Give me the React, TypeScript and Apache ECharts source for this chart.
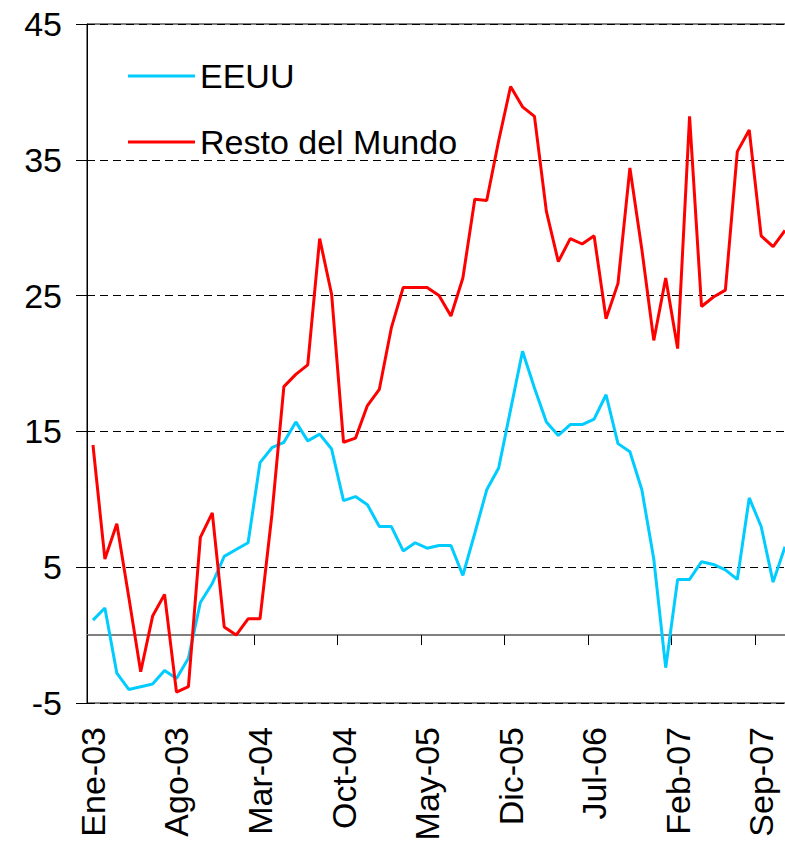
import React, { useEffect, useRef } from "react";
import * as echarts from "echarts";

const monthNames = ["Ene", "Feb", "Mar", "Abr", "May", "Jun", "Jul", "Ago", "Sep", "Oct", "Nov", "Dic"];
const years = ["03", "04", "05", "06", "07"];
const categories: string[] = [];
years.forEach((y) => monthNames.forEach((m) => categories.push(`${m}-${y}`)));
const months = categories.slice(0, 59); // Ene-03 .. Nov-07

const eeuu = [
  1.1, 2.0, -2.8, -4.0, -3.8, -3.6, -2.6, -3.2, -1.7, 2.4, 3.8, 5.8,
  6.3, 6.8, 12.7, 13.8, 14.2, 15.7, 14.3, 14.8, 13.7, 9.9, 10.2, 9.6,
  8.0, 8.0, 6.2, 6.8, 6.4, 6.6, 6.6, 4.4, 7.5, 10.7, 12.3, 16.6,
  20.9, 18.2, 15.7, 14.7, 15.5, 15.5, 15.9, 17.7, 14.1, 13.5, 10.7, 5.6,
  -2.4, 4.1, 4.1, 5.4, 5.2, 4.8, 4.1, 10.1, 8.0, 3.9, 6.5,
];

const restoMundo = [
  14.0, 5.6, 8.2, 2.8, -2.7, 1.4, 3.0, -4.2, -3.8, 7.2, 9.0, 0.6,
  0.0, 1.2, 1.2, 8.9, 18.3, 19.2, 19.9, 29.2, 25.1, 14.2, 14.5, 16.9,
  18.1, 22.6, 25.6, 25.6, 25.6, 25.0, 23.5, 26.3, 32.1, 32.0, 36.4, 40.4,
  38.9, 38.2, 31.2, 27.5, 29.2, 28.8, 29.4, 23.3, 25.9, 34.4, 28.4, 21.7,
  26.3, 21.1, 38.2, 24.2, 24.9, 25.4, 35.6, 37.2, 29.4, 28.6, 29.8,
];

const FONT = 'Arial, "Liberation Sans", sans-serif';

export default function App() {
  const ref = useRef<HTMLDivElement>(null);
  useEffect(() => {
    if (!ref.current) return;
    const chart = echarts.init(ref.current, undefined, { renderer: "svg" });
    chart.setOption({
      animation: false,
      backgroundColor: "#ffffff",
      grid: {
        left: 87,
        top: 24,
        right: 9,
        bottom: 143,
        outerBoundsMode: "none",
        containLabel: false,
        show: true,
        borderColor: "#000000",
        borderWidth: 1,
        backgroundColor: "transparent",
      },
      legend: {
        show: true,
        orient: "vertical",
        left: 123,
        top: 51,
        icon: "rect",
        itemWidth: 67,
        itemHeight: 3,
        itemGap: 26,
        textStyle: {
          fontFamily: FONT,
          fontSize: 34,
          color: "#000",
          lineHeight: 40,
        },
        data: ["EEUU", "Resto del Mundo"],
      },
      xAxis: {
        type: "category",
        data: months,
        boundaryGap: true,
        axisLine: { show: true, onZero: true, lineStyle: { color: "#808080", width: 2 } },
        axisTick: { show: true, interval: 6, length: 10, lineStyle: { color: "#000", width: 1 } },
        axisLabel: {
          interval: 6,
          rotate: 90,
          margin: 24,
          fontFamily: FONT,
          fontSize: 34,
          color: "#000",
        },
        splitLine: { show: false },
      },
      yAxis: {
        type: "value",
        min: -5,
        max: 45,
        interval: 10,
        axisLine: { show: true, lineStyle: { color: "#000", width: 1 } },
        axisTick: { show: true, length: 11, lineStyle: { color: "#000", width: 1 } },
        axisLabel: {
          margin: 25,
          fontFamily: FONT,
          fontSize: 34,
          color: "#000",
        },
        splitLine: {
          show: true,
          lineStyle: { color: "#000", width: 1, type: [8, 5] },
        },
      },
      series: [
        {
          name: "EEUU",
          type: "line",
          data: eeuu,
          showSymbol: false,
          symbol: "none",
          lineStyle: { color: "#00CCFF", width: 3 },
          itemStyle: { color: "#00CCFF" },
          z: 3,
        },
        {
          name: "Resto del Mundo",
          type: "line",
          data: restoMundo,
          showSymbol: false,
          symbol: "none",
          lineStyle: { color: "#FF0000", width: 3 },
          itemStyle: { color: "#FF0000" },
          z: 4,
        },
      ],
    });
    return () => chart.dispose();
  }, []);
  return (
    <div
      style={{
        position: "fixed",
        left: 0,
        top: 0,
        width: 785,
        height: 846,
        overflow: "hidden",
        background: "#fff",
      }}
    >
      <div ref={ref} style={{ width: 800, height: 846 }} />
    </div>
  );
}
